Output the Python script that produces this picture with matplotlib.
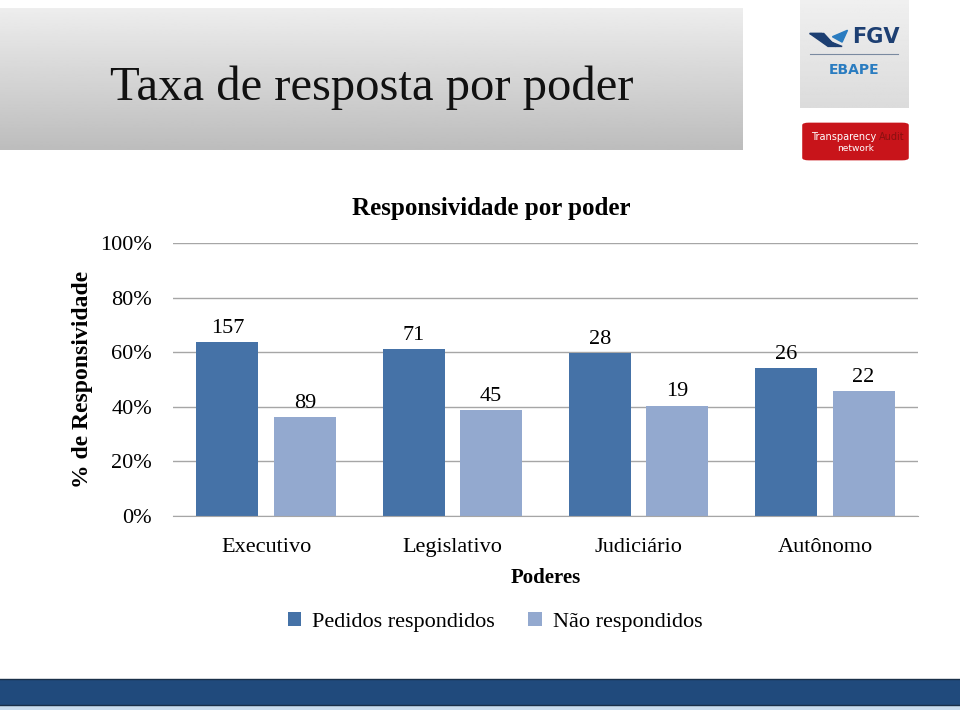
import numpy as np
import matplotlib.pyplot as plt
from matplotlib.patches import Rectangle, FancyBboxPatch

plt.rcParams['font.family'] = ['Liberation Serif', 'DejaVu Serif']

poderes = ['Executivo', 'Legislativo', 'Judiciário', 'Autônomo']
respondidos = [157, 71, 28, 26]
nao_respondidos = [89, 45, 19, 22]
series_names = ['Pedidos respondidos', 'Não respondidos']
yticks = [0, 0.2, 0.4, 0.6, 0.8, 1.0]
ytick_labels = ['0%', '20%', '40%', '60%', '80%', '100%']

resp = np.array(respondidos, dtype=float)
nresp = np.array(nao_respondidos, dtype=float)
total = resp + nresp
pct_resp = resp / total
pct_nresp = nresp / total

c_dark = '#4572a7'
c_light = '#93a9cf'

fig = plt.figure(figsize=(9.6, 7.1), dpi=100)

# header band with gradient
hdr = fig.add_axes([0, 1 - 150/710, 743/960, 142/710])
grad = np.linspace(0.93, 0.74, 100).reshape(-1, 1)
hdr.imshow(grad, aspect='auto', cmap='gray', vmin=0, vmax=1, extent=[0, 1, 0, 1])
hdr.set_axis_off()
hdr.text(0.501, 0.44, 'Taxa de resposta por poder', ha='center', va='center',
         fontsize=35, color='#111111')

# FGV logo box
logo = fig.add_axes([800/960, 1 - 108/710, 108/960, 108/710])
g2 = np.linspace(0.94, 0.86, 100).reshape(-1, 1)
logo.imshow(g2, aspect='auto', cmap='gray', vmin=0, vmax=1, extent=[0, 1, 0, 1])
logo.set_xlim(0, 1); logo.set_ylim(0, 1)
logo.set_axis_off()
logo.text(0.7, 0.66, 'FGV', ha='center', va='center', fontsize=15, fontweight='bold',
          color='#1d3f72', family='DejaVu Sans')
logo.fill([0.09, 0.22, 0.33, 0.39], [0.69, 0.69, 0.57, 0.57], color='#1d3f72')
logo.fill([0.09, 0.2, 0.33, 0.26], [0.69, 0.69, 0.57, 0.57], color='#1d3f72')
logo.fill([0.3, 0.44, 0.39], [0.66, 0.72, 0.61], color='#2a7cc0')
logo.plot([0.09, 0.91], [0.5, 0.5], color='#7a8aa0', lw=0.8)
logo.text(0.5, 0.35, 'EBAPE', ha='center', va='center', fontsize=10, fontweight='bold',
          color='#2a7cc0', family='DejaVu Sans')

# Transparency Audit logo
ta = fig.add_axes([800/960, 1 - 162/710, 111/960, 41/710])
ta.set_xlim(0, 1); ta.set_ylim(0, 1)
ta.set_axis_off()
ta.add_patch(FancyBboxPatch((0.02, 0.04), 0.96, 0.92, boxstyle='round,pad=0,rounding_size=0.06',
                            fc='#c8141a', ec='none'))
ta.text(0.1, 0.62, 'Transparency', ha='left', va='center', fontsize=7, color='white',
        family='DejaVu Sans')
ta.text(0.71, 0.62, 'Audit', ha='left', va='center', fontsize=7, color='#8a1010',
        family='DejaVu Sans')
ta.text(0.5, 0.33, 'network', ha='center', va='center', fontsize=6.5, color='white',
        family='DejaVu Sans')

# bottom band
fig.patches.append(Rectangle((0, 5/710), 1, 26/710, transform=fig.transFigure,
                             fc='#204a7c', ec='none'))
fig.add_artist(plt.Line2D([0, 1], [31/710, 31/710], color='#1a2f48', lw=1))
fig.add_artist(plt.Line2D([0, 1], [5/710, 5/710], color='#1a2f48', lw=1))
fig.patches.append(Rectangle((0, 0), 1, 4/710, transform=fig.transFigure,
                             fc='#c9dced', ec='none'))

# chart
ax = fig.add_axes([173/960, 1 - 516/710, 745/960, 273/710])
x = np.arange(len(poderes))
w = 0.333
b1 = ax.bar(x - 0.208, pct_resp, w, color=c_dark, label=series_names[0])
b2 = ax.bar(x + 0.208, pct_nresp, w, color=c_light, label=series_names[1])

for bars, vals in [(b1, respondidos), (b2, nao_respondidos)]:
    for r, v in zip(bars, vals):
        ax.annotate(str(v), (r.get_x() + r.get_width() / 2, r.get_height()),
                    xytext=(0, 3), textcoords='offset points', ha='center', va='bottom',
                    fontsize=16)

ax.set_xlim(-0.5, 3.5)
ax.set_ylim(0, 1)
ax.set_yticks(yticks)
ax.set_yticklabels(ytick_labels, fontsize=16)
ax.yaxis.grid(True, color='#a6a6a6', lw=1)
ax.set_axisbelow(True)
ax.tick_params(axis='y', length=0, pad=15)
ax.tick_params(axis='x', length=0, pad=16, labelsize=16)
ax.set_xticks(x)
ax.set_xticklabels(poderes)
for s in ['top', 'right', 'left']:
    ax.spines[s].set_visible(False)
ax.spines['bottom'].set_color('#a6a6a6')

fig.text(491/960, 1 - 208/710, 'Responsividade por poder', ha='center', va='center',
         fontsize=18, fontweight='bold')
ax.set_xlabel('Poderes', fontsize=15, fontweight='bold', labelpad=8)
ax.set_ylabel('% de Responsividade', fontsize=17, fontweight='bold', labelpad=5)

fig.legend(handles=[b1, b2], loc='center', bbox_to_anchor=(495/960, 1 - 622/710),
           ncol=2, frameon=False, fontsize=16, handlelength=0.6, handleheight=0.6,
           columnspacing=1.5, handletextpad=0.5)

fig.savefig('out.png', dpi=100)
